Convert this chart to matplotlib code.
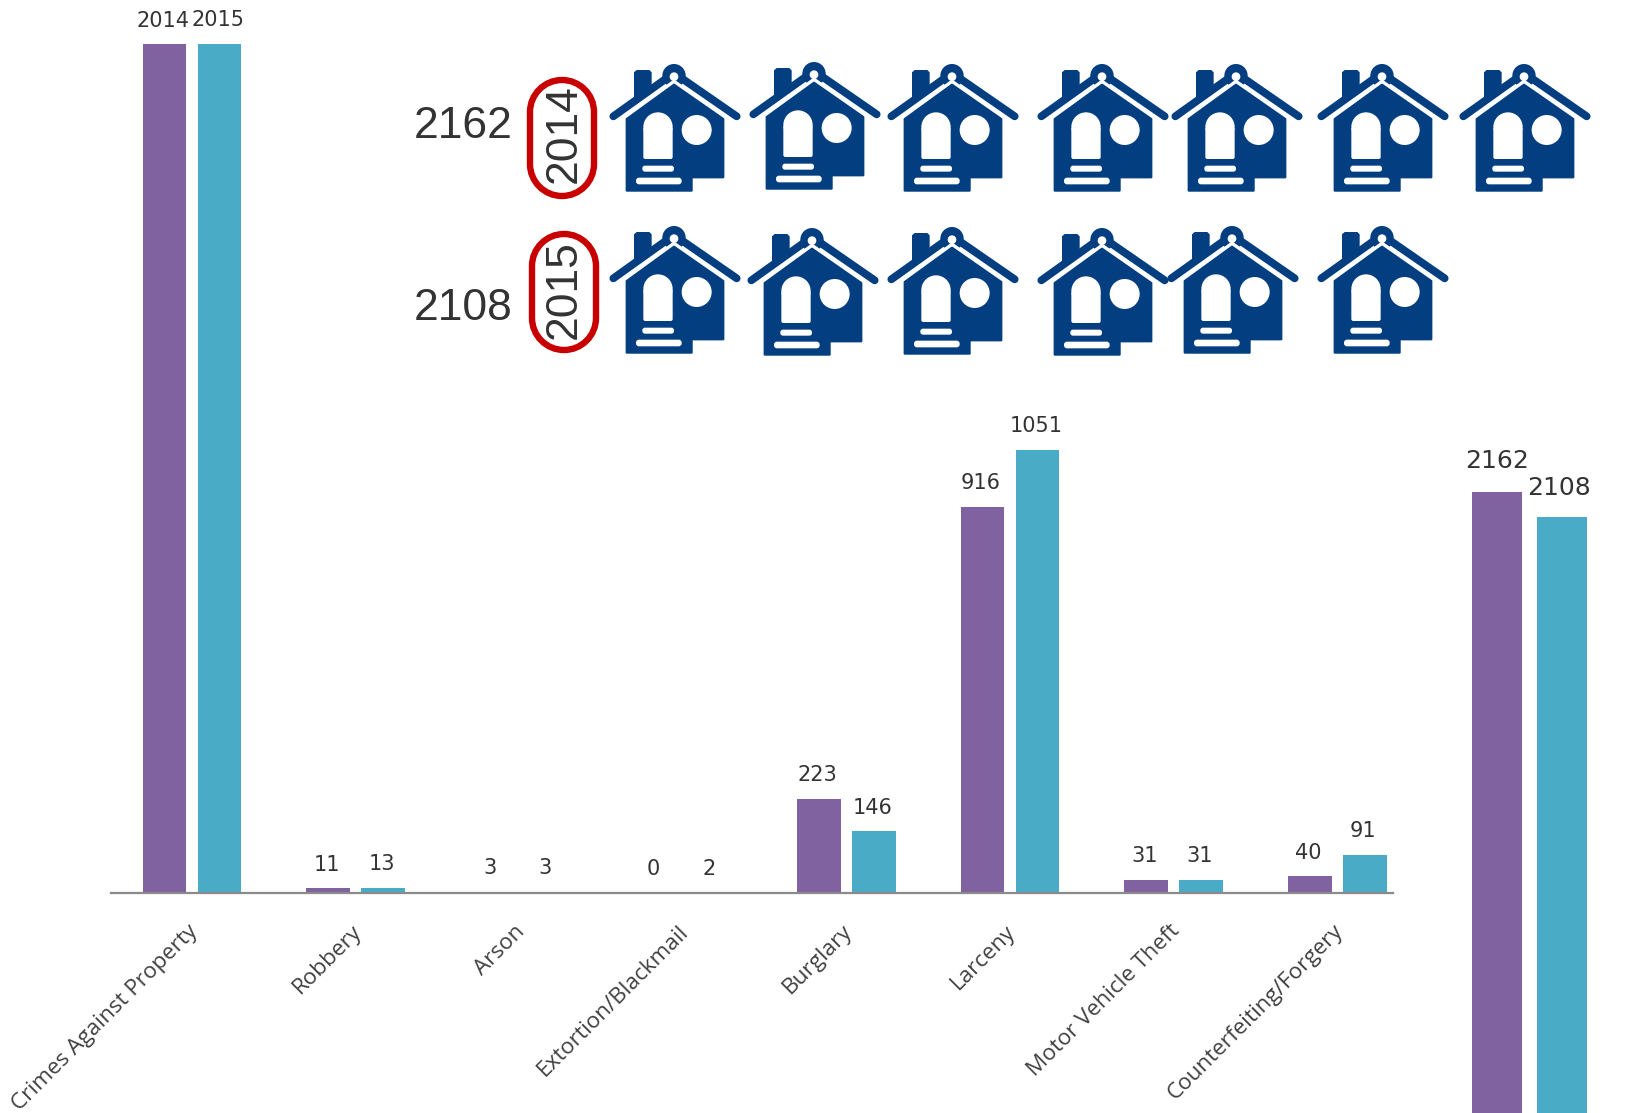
import matplotlib
matplotlib.use("Agg")
import matplotlib.pyplot as plt
from matplotlib.patches import FancyBboxPatch, PathPatch, Circle, Polygon
from matplotlib.path import Path
from matplotlib.transforms import Affine2D

categories = ["Crimes Against Property", "Robbery", "Arson", "Extortion/Blackmail",
              "Burglary", "Larceny", "Motor Vehicle Theft", "Counterfeiting/Forgery"]
values_2014 = [2014, 11, 3, 0, 223, 916, 31, 40]
values_2015 = [2015, 13, 3, 2, 146, 1051, 31, 91]
total_2014 = 2162
total_2015 = 2108
years = ["2014", "2015"]
icons_2014 = 7
icons_2015 = 6

PURPLE, TEAL, NAVY, RED = "#8062a0", "#4aabc6", "#033f80", "#c80000"
W, H = 1628, 1113
fig = plt.figure(figsize=(W / 100, H / 100), dpi=100, facecolor="white")

def axes_px(x0, y0, x1, y1):
    return fig.add_axes([x0 / W, 1 - y1 / H, (x1 - x0) / W, (y1 - y0) / H])

# main chart
ax = axes_px(111, 0, 1393, 893)
for i in range(len(categories)):
    ax.bar(i - 0.168, values_2014[i], 0.2665, color=PURPLE)
    ax.bar(i + 0.168, values_2015[i], 0.2665, color=TEAL)
    for dx, v in ((-0.168, values_2014[i]), (0.168, values_2015[i])):
        ax.annotate(str(v), (i + dx, v), xytext=(-1.2, 17), textcoords="offset points",
                    ha="center", va="center", fontsize=15, color="#333333",
                    family="DejaVu Sans", annotation_clip=False)
ax.set_xlim(-0.495, 7.34)
ax.set_ylim(0, 2119)
ax.set_yticks([])
ax.set_xticks([i - 0.03 for i in range(len(categories))])
ax.set_xticklabels(categories, rotation=45, ha="right", rotation_mode="anchor",
                   fontsize=16.2, color="#404040", family="Open Sans")
ax.tick_params(axis="x", length=0, pad=20)
for s in ("top", "left", "right"):
    ax.spines[s].set_visible(False)
ax.spines["bottom"].set_color("#8a8a8a")
ax.spines["bottom"].set_linewidth(1.6)
ax.patch.set_alpha(0)

# totals chart, cut off by the bottom of the picture
ax2 = axes_px(1440, 450, 1620, 1113)
ax2.bar([0], [total_2014], 0.77, color=PURPLE)
ax2.bar([1], [total_2015], 0.77, color=TEAL)
ax2.annotate(str(total_2014), (0, total_2014), xytext=(0, 22), textcoords="offset points",
             ha="center", va="center", fontsize=18, color="#333333", family="DejaVu Sans")
ax2.annotate(str(total_2015), (1, total_2015), xytext=(-2, 20.5), textcoords="offset points",
             ha="center", va="center", fontsize=18, color="#333333", family="DejaVu Sans",
             annotation_clip=False)
ax2.set_xlim(-0.877, 1.892)
ax2.set_ylim(812, 2253)
ax2.axis("off")

# overlay in pixel space for the pictogram
ov = fig.add_axes([0, 0, 1, 1])
ov.set_xlim(0, W)
ov.set_ylim(H, 0)
ov.axis("off")
ov.patch.set_alpha(0)

def house(cx, top):
    """Icon drawn in a 125 x 125 px box; local units are 3x pixels."""
    t = Affine2D().translate(-255, -45).scale(1 / 3).translate(cx, top) + ov.transData
    ov.add_patch(Polygon([(132, 70), (140, 63), (178, 63), (185, 70), (185, 110), (132, 150)],
                         closed=True, fc=NAVY, ec=NAVY, lw=0, transform=t))
    ov.add_patch(Circle((252, 80), 35, fc=NAVY, ec="none", transform=t))
    ov.add_patch(PathPatch(Path([(70, 202), (252, 72), (440, 202)]), fc="none", ec=NAVY, lw=5.6,
                           capstyle="round", joinstyle="round", transform=t))
    ov.add_patch(PathPatch(Path([(100, 210), (252, 98), (410, 210)]), fc="none", ec="white", lw=2.8,
                           capstyle="butt", joinstyle="miter", transform=t))
    ov.add_patch(Circle((252, 83), 13, fc="white", ec="none", transform=t))
    ov.add_patch(Polygon([(110, 210), (252, 107), (400, 210), (400, 385), (305, 385), (305, 425),
                          (110, 425)], closed=True, fc=NAVY, ec=NAVY, lw=1.5, joinstyle="round",
                         transform=t))
    ov.add_patch(FancyBboxPatch((160, 235), 88, 95, boxstyle="round,pad=0,rounding_size=6",
                                fc="white", ec="none", transform=t))
    ov.add_patch(Circle((204, 234), 44, fc="white", ec="none", transform=t))
    ov.add_patch(Circle((320, 243), 45, fc="white", ec="none", transform=t))
    ov.add_patch(FancyBboxPatch((157, 350), 95, 18, boxstyle="round,pad=0,rounding_size=8",
                                fc="white", ec="none", transform=t))
    ov.add_patch(FancyBboxPatch((138, 386), 137, 20, boxstyle="round,pad=0,rounding_size=9",
                                fc="white", ec="none", transform=t))

row1 = [(675, 64), (815, 62), (953, 64), (1103, 64), (1237, 64), (1383, 64), (1525, 64)]
row2 = [(675, 226), (813, 228), (953, 227), (1103, 228), (1233, 226), (1383, 226)]
for cx, top in row1[:icons_2014]:
    house(cx, top)
for cx, top in row2[:icons_2015]:
    house(cx, top)

def pill(x0, y0, x1, y1):
    r = (x1 - x0) / 2
    k = 0.5523 * r
    verts = [(x0, y0 + r), (x0, y0 + r - k), (x0 + r - k, y0), (x0 + r, y0),
             (x1 - r + k, y0), (x1, y0 + r - k), (x1, y0 + r),
             (x1, y1 - r), (x1, y1 - r + k), (x1 - r + k, y1), (x1 - r, y1),
             (x0 + r - k, y1), (x0, y1 - r + k), (x0, y1 - r), (x0, y0 + r)]
    codes = [Path.MOVETO] + [Path.CURVE4] * 6 + [Path.LINETO] + [Path.CURVE4] * 6 + [Path.CLOSEPOLY]
    ov.add_patch(PathPatch(Path(verts, codes), fc="none", ec=RED, lw=4.6))

pill(530, 80, 594, 196)
pill(532, 234, 596, 350)

sans = "Liberation Sans"
ov.text(463, 127, str(total_2014), fontsize=32, color="#333333", family=sans, ha="center", va="center")
ov.text(463, 308, str(total_2015), fontsize=32, color="#333333", family=sans, ha="center", va="center")
ov.text(564, 134, years[0], fontsize=32, color="#333333", family=sans, rotation=90, ha="center", va="center")
ov.text(564, 290, years[1], fontsize=32, color="#333333", family=sans, rotation=90, ha="center", va="center")

fig.savefig("out.png", dpi=100, facecolor="white")
